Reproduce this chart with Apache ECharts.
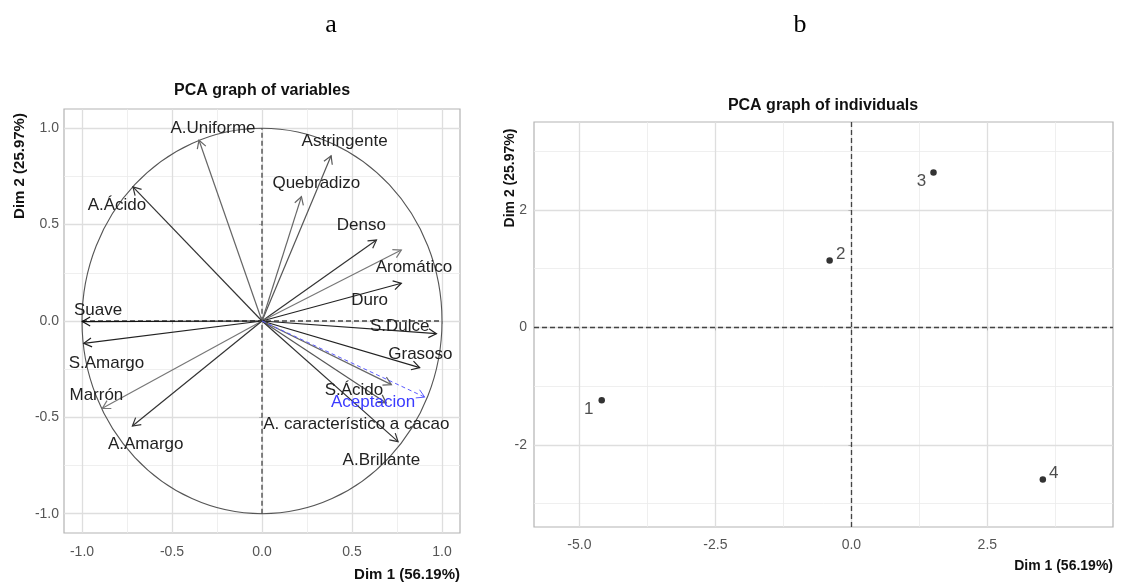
<!DOCTYPE html>
<html><head><meta charset="utf-8">
<script src="https://cdn.jsdelivr.net/npm/echarts@6/dist/echarts.min.js"></script>
<style>html,body{margin:0;padding:0;background:#fff}#c{width:1125px;height:582px}</style>
</head><body><div id="c"></div><script>
// ---------- data ----------
const varNames = ['A.Uniforme','Astringente','Quebradizo','A.Ácido','Denso','Aromático','Duro','Suave',
  'S.Dulce','S.Amargo','Marrón','A.Amargo','Grasoso','S.Ácido','A. característico a cacao','A.Brillante'];
const varDim1 = [-0.350, 0.384, 0.219, -0.717, 0.636, 0.774, 0.774, -0.998, 0.969, -0.990, -0.887, -0.720, 0.876, 0.719, 0.690, 0.756];
const varDim2 = [ 0.938, 0.857, 0.645,  0.696, 0.420, 0.368, 0.196, -0.003, -0.066, -0.116, -0.453, -0.545, -0.242, -0.330, -0.425, -0.626];
const supNames = ['Aceptacion'];
const supDim1 = [0.904];
const supDim2 = [-0.395];
const indNames = ['1','2','3','4'];
const indDim1 = [-4.59, -0.40, 1.51, 3.52];
const indDim2 = [-1.24, 1.14, 2.64, -2.59];
const varMajorTicks = [-1, -0.5, 0, 0.5, 1];
const varMinorTicks = [-0.75, -0.25, 0.25, 0.75];
const indXMajorTicks = [-5, -2.5, 0, 2.5];
const indXMinorTicks = [-3.75, -1.25, 1.25, 3.75];
const indYMajorTicks = [-2, 0, 2];
const indYMinorTicks = [-3, -1, 1, 3];

// ---------- layout / style (not data) ----------
const varLabelX = [-0.272, 0.459, 0.302, -0.806, 0.552, 0.844, 0.598, -0.911, 0.765, -0.864, -0.920, -0.646, 0.880, 0.511, 0.524, 0.663];
const varLabelY = [ 1.000, 0.930, 0.714,  0.598, 0.495, 0.277, 0.109,  0.057, -0.026, -0.220, -0.384, -0.640, -0.171, -0.362, -0.534, -0.725];
const supLabelX = [0.617];
const supLabelY = [-0.424];
const arrowColors = ['#666','#555','#666','#333','#333','#777','#222','#111','#222','#222','#777','#333','#222','#666','#555','#333'];
const indLabelOffset = [[-13, 9], [11, -6], [-12, 9], [11, -6]];

const FONT = '"Liberation Sans", Arial, Helvetica, sans-serif';
const chart = echarts.init(document.getElementById('c'));

function mkAxis(gridIndex, min, max, ticks, isMain, fmt, margin, dim) {
  return {
    type: 'value', gridIndex, min, max,
    position: dim === 'x' ? 'bottom' : 'left',
    axisLine: {show: false},
    axisTick: isMain ? {show: true, length: 3, lineStyle: {color: '#b3b3b3', width: 1}, customValues: ticks}
                     : {show: false, customValues: ticks},
    axisLabel: isMain ? {show: true, customValues: ticks, formatter: fmt, color: '#555', fontSize: 14, fontFamily: FONT, margin}
                      : {show: false},
    splitLine: {show: true, lineStyle: isMain ? {color: '#dedede', width: 1.3} : {color: '#ebebeb', width: 0.8}},
    z: isMain ? 1 : 0
  };
}

function arrowGroup(api, x, y, color, dashed, width) {
  const o = api.coord([0, 0]);
  const t = api.coord([x, y]);
  const ang = Math.atan2(t[1] - o[1], t[0] - o[0]);
  const L = 9, a = Math.PI / 6;
  const h1 = [t[0] - L * Math.cos(ang - a), t[1] - L * Math.sin(ang - a)];
  const h2 = [t[0] - L * Math.cos(ang + a), t[1] - L * Math.sin(ang + a)];
  const st = {stroke: color, lineWidth: width, fill: 'none'};
  const stLine = Object.assign({}, st, dashed ? {lineDash: [4, 3]} : {});
  return {
    type: 'group', silent: true,
    children: [
      {type: 'line', shape: {x1: o[0], y1: o[1], x2: t[0], y2: t[1]}, style: stLine},
      {type: 'polyline', shape: {points: [h1, t, h2]}, style: st}
    ]
  };
}

const option = {
  animation: false,
  backgroundColor: '#fff',
  grid: [
    {left: 64, right: 665, top: 109, bottom: 49, show: true, borderColor: '#b3b3b3', borderWidth: 1.2, backgroundColor: '#fff'},
    {left: 534, right: 12, top: 122, bottom: 55, show: true, borderColor: '#b3b3b3', borderWidth: 1.2, backgroundColor: '#fff'}
  ],
  xAxis: [
    mkAxis(0, -1.1, 1.1, varMajorTicks, true, v => v.toFixed(1), 12, 'x'),
    mkAxis(0, -1.1, 1.1, varMinorTicks, false, null, 0, 'x'),
    mkAxis(1, -5.835, 4.81, indXMajorTicks, true, v => v.toFixed(1), 11, 'x'),
    mkAxis(1, -5.835, 4.81, indXMinorTicks, false, null, 0, 'x')
  ],
  yAxis: [
    mkAxis(0, -1.1, 1.1, varMajorTicks, true, v => v.toFixed(1), 5, 'y'),
    mkAxis(0, -1.1, 1.1, varMinorTicks, false, null, 0, 'y'),
    mkAxis(1, -3.40, 3.50, indYMajorTicks, true, v => String(v), 7, 'y'),
    mkAxis(1, -3.40, 3.50, indYMinorTicks, false, null, 0, 'y')
  ],
  graphic: [
    {type: 'text', x: 331, y: 25, silent: true, style: {text: 'a', font: '26px "Liberation Serif", "Times New Roman", serif', fill: '#000', align: 'center', verticalAlign: 'middle'}},
    {type: 'text', x: 800, y: 25, silent: true, style: {text: 'b', font: '26px "Liberation Serif", "Times New Roman", serif', fill: '#000', align: 'center', verticalAlign: 'middle'}},
    {type: 'text', x: 262, y: 91, silent: true, style: {text: 'PCA graph of variables', font: 'bold 16px ' + FONT, fill: '#111', align: 'center', verticalAlign: 'middle'}},
    {type: 'text', x: 823, y: 106, silent: true, style: {text: 'PCA graph of individuals', font: 'bold 16px ' + FONT, fill: '#111', align: 'center', verticalAlign: 'middle'}},
    {type: 'text', x: 460, y: 575, silent: true, style: {text: 'Dim 1 (56.19%)', font: 'bold 15px ' + FONT, fill: '#111', align: 'right', verticalAlign: 'middle'}},
    {type: 'text', x: 1113, y: 566, silent: true, style: {text: 'Dim 1 (56.19%)', font: 'bold 14px ' + FONT, fill: '#111', align: 'right', verticalAlign: 'middle'}},
    {type: 'text', x: 20, y: 166, rotation: Math.PI / 2, silent: true, style: {text: 'Dim 2 (25.97%)', font: 'bold 15px ' + FONT, fill: '#111', align: 'center', verticalAlign: 'middle'}},
    {type: 'text', x: 510, y: 178, rotation: Math.PI / 2, silent: true, style: {text: 'Dim 2 (25.97%)', font: 'bold 14px ' + FONT, fill: '#111', align: 'center', verticalAlign: 'middle'}}
  ],
  series: [
    { // unit circle
      type: 'custom', xAxisIndex: 0, yAxisIndex: 0, silent: true, z: 3,
      data: [[0, 0]],
      renderItem: (params, api) => {
        const c = api.coord([0, 0]);
        const s = api.size([1, 1]);
        return {type: 'ellipse', shape: {cx: c[0], cy: c[1], rx: s[0], ry: s[1]}, style: {fill: 'none', stroke: '#555', lineWidth: 1.1}};
      }
    },
    { // reference dashed lines
      type: 'line', xAxisIndex: 0, yAxisIndex: 0, silent: true, symbol: 'none', z: 3,
      data: [[-1, 0], [1, 0]], lineStyle: {color: '#444', width: 1.3, type: [5, 3]}
    },
    {
      type: 'line', xAxisIndex: 0, yAxisIndex: 0, silent: true, symbol: 'none', z: 3,
      data: [[0, -1], [0, 1]], lineStyle: {color: '#444', width: 1.3, type: [5, 3]}
    },
    { // active variable arrows
      type: 'custom', xAxisIndex: 0, yAxisIndex: 0, silent: true, z: 4,
      data: varNames.map((n, i) => [varDim1[i], varDim2[i], i]),
      renderItem: (params, api) => arrowGroup(api, api.value(0), api.value(1), arrowColors[api.value(2)], false, 1.2)
    },
    { // supplementary variable arrow
      type: 'custom', xAxisIndex: 0, yAxisIndex: 0, silent: true, z: 4,
      data: supNames.map((n, i) => [supDim1[i], supDim2[i]]),
      renderItem: (params, api) => arrowGroup(api, api.value(0), api.value(1), '#5a5aff', true, 1)
    },
    { // variable labels
      type: 'custom', xAxisIndex: 0, yAxisIndex: 0, silent: true, z: 5,
      data: varNames.map((n, i) => [varLabelX[i], varLabelY[i], i]),
      renderItem: (params, api) => {
        const p = api.coord([api.value(0), api.value(1)]);
        return {type: 'text', x: p[0], y: p[1], style: {text: varNames[api.value(2)], font: '17px ' + FONT, fill: '#222', align: 'center', verticalAlign: 'middle'}};
      }
    },
    {
      type: 'custom', xAxisIndex: 0, yAxisIndex: 0, silent: true, z: 5,
      data: supNames.map((n, i) => [supLabelX[i], supLabelY[i], i]),
      renderItem: (params, api) => {
        const p = api.coord([api.value(0), api.value(1)]);
        return {type: 'text', x: p[0], y: p[1], style: {text: supNames[api.value(2)], font: '17px ' + FONT, fill: '#3b3bff', align: 'center', verticalAlign: 'middle'}};
      }
    },
    { // individuals
      type: 'scatter', xAxisIndex: 2, yAxisIndex: 2, silent: true, z: 5,
      symbolSize: 6.5, itemStyle: {color: '#000'},
      data: indNames.map((n, i) => ({
        name: n, value: [indDim1[i], indDim2[i]],
        label: {show: true, position: 'inside', offset: indLabelOffset[i], formatter: '{b}', fontSize: 17, fontFamily: FONT, color: '#222'}
      })),
      markLine: {
        silent: true, symbol: 'none', animation: false, label: {show: false},
        lineStyle: {color: '#444', width: 1.3, type: [5, 3]},
        data: [{xAxis: 0}, {yAxis: 0}]
      }
    }
  ]
};
chart.setOption(option);
</script></body></html>
